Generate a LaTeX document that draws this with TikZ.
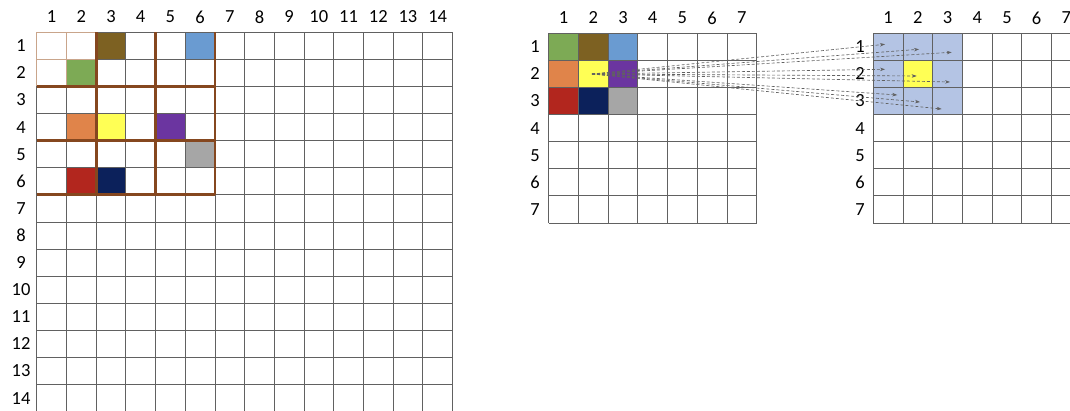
\documentclass[tikz,border=0pt]{standalone}
\usepackage{fontspec}
\setmainfont{Carlito}
\usetikzlibrary{arrows.meta}
\definecolor{cellolive}{HTML}{7D6122}
\definecolor{cellblue}{HTML}{6A9BD1}
\definecolor{cellgreen}{HTML}{7DAA55}
\definecolor{cellorange}{HTML}{E0844A}
\definecolor{cellyellow}{HTML}{FFFF55}
\definecolor{cellpurple}{HTML}{6B35A0}
\definecolor{cellgray}{HTML}{A6A6A6}
\definecolor{cellred}{HTML}{B2261E}
\definecolor{cellnavy}{HTML}{0C215B}
\definecolor{celllight}{HTML}{B4C4E4}
\definecolor{poolbrown}{HTML}{85471F}
\definecolor{pooltan}{HTML}{C9A58B}
\def\cw{29.7}
\def\ch{27.1}

\begin{document}
\begin{tikzpicture}[
      x=1pt, y=-1pt,
      gridline/.style={draw=black!62, line width=0.8pt},
      tanline/.style={draw=pooltan, line width=0.9pt},
      poolline/.style={draw=poolbrown, line width=2.8pt},
      idx/.style={font=\fontsize{18.5}{20}\selectfont, inner sep=0pt},
      maparrow/.style={-{Stealth[length=5pt, width=3.5pt]}, draw=black!62,
        dash pattern=on 3pt off 2pt, line width=0.65pt}
    ]
      \useasboundingbox (0,0) rectangle (1070,411);
      \clip (0,0) rectangle (1070,411);

      % Input grid (14 x 14)
      \foreach \r/\c/\col in {1/3/cellolive, 1/6/cellblue, 2/2/cellgreen,
          4/2/cellorange, 4/3/cellyellow, 4/5/cellpurple, 5/6/cellgray,
          6/2/cellred, 6/3/cellnavy}
        \fill[\col] ({36.7+(\c-1)*\cw},{32.3+(\r-1)*\ch}) rectangle ++(\cw,\ch);
      \foreach \i in {0,...,14} {
        \draw[gridline] ({36.7+\i*\cw},32.3) -- ++(0,{14*\ch});
        \draw[gridline] (36.7,{32.3+\i*\ch}) -- ++({14*\cw},0);
      }
      \foreach \i in {1,...,14} {
        \node[idx] (incol\i) at ({36.7+(\i-0.5)*\cw},17) {\i};
        \node[idx] (inrow\i) at (21,{32.3+(\i-0.5)*\ch}) {\i};
      }

      % First window and pooling blocks
      \draw[tanline] (36.7,{32.3+2*\ch}) -- (36.7,32.3) -- ({36.7+2*\cw},32.3);
      \draw[tanline] ({36.7+\cw},32.3) -- ++(0,{2*\ch});
      \draw[tanline] (36.7,{32.3+\ch}) -- ++({2*\cw},0);
      \foreach \i in {2,4,6} {
        \draw[poolline] ({36.7+\i*\cw},32.3) -- ++(0,{6*\ch});
        \draw[poolline] (36.7,{32.3+\i*\ch}) -- ++({6*\cw},0);
      }

      % Pooled grid (7 x 7)
      \foreach \r/\c/\col in {1/1/cellgreen, 1/2/cellolive, 1/3/cellblue,
          2/1/cellorange, 2/2/cellyellow, 2/3/cellpurple,
          3/1/cellred, 3/2/cellnavy, 3/3/cellgray}
        \fill[\col] ({548.7+(\c-1)*\cw},{33.3+(\r-1)*\ch}) rectangle ++(\cw,\ch);
      \foreach \i in {0,...,7} {
        \draw[gridline] ({548.7+\i*\cw},33.3) -- ++(0,{7*\ch});
        \draw[gridline] (548.7,{33.3+\i*\ch}) -- ++({7*\cw},0);
      }
      \foreach \i in {1,...,7} {
        \node[idx] (pcol\i) at ({548.7+(\i-0.5)*\cw},18) {\i};
        \node[idx] (prow\i) at (535,{33.3+(\i-0.5)*\ch}) {\i};
      }

      % Output grid (7 x 7)
      \fill[celllight] (873.3,33.3) rectangle ++({3*\cw},{3*\ch});
      \fill[cellyellow] ({873.3+\cw},{33.3+\ch}) rectangle ++(\cw,\ch);
      \foreach \i in {0,...,7} {
        \draw[gridline] ({873.3+\i*\cw},33.3) -- ++(0,{7*\ch});
        \draw[gridline] (873.3,{33.3+\i*\ch}) -- ++({7*\cw},0);
      }
      \foreach \i in {1,...,7} {
        \node[idx] (ocol\i) at ({873.3+(\i-0.5)*\cw},18) {\i};
        \node[idx] (orow\i) at (860,{33.3+(\i-0.5)*\ch}) {\i};
      }

      % Mapping arrows
      \coordinate (src) at (592,74);
      \coordinate (t11) at (885,44.3);
      \coordinate (t12) at (919,49.3);
      \coordinate (t13) at (951.7,52.3);
      \coordinate (t21) at (885,69.3);
      \coordinate (t22) at (916.7,76);
      \coordinate (t23) at (950,82);
      \coordinate (t31) at (897.3,95);
      \coordinate (t32) at (920,102);
      \coordinate (t33) at (941.7,109);
      \foreach \t in {t11,t12,t13,t21,t22,t23,t31,t32,t33}
        \draw[maparrow] (src) -- (\t);
    \end{tikzpicture}
\end{document}
